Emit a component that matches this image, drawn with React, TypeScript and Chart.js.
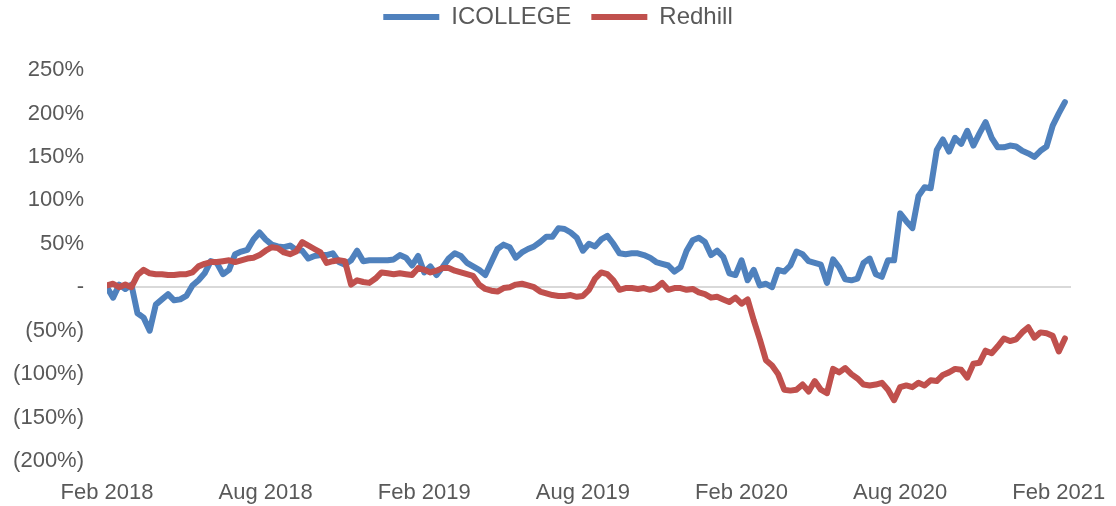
import React, { useEffect, useRef } from 'react';
import { Chart, registerables } from 'chart.js';

Chart.register(...registerables);

// Weekly observations, Feb 2018 -> Feb 2021 (index = week number)
const icollege: number[] = [
  0, -12, 3, -2, 3, -30, -35, -50, -20, -14,
  -8, -15, -14, -10, 2, 8, 16, 30, 28, 15,
  20, 38, 41, 43, 55, 63, 55, 49, 47, 46,
  48, 43, 42, 33, 36, 37, 37, 39, 29, 26,
  31, 42, 30, 31, 31, 31, 31, 32, 37, 34,
  25, 36, 17, 24, 14, 23, 33, 39, 36, 28,
  24, 20, 14, 29, 44, 49, 46, 34, 40, 44,
  47, 52, 58, 58, 68, 67, 63, 57, 42, 50,
  47, 55, 59, 50, 39, 38, 39, 39, 37, 34,
  29, 27, 25, 18, 23, 42, 54, 57, 52, 37,
  42, 35, 16, 14, 31, 8, 20, 2, 4, 0,
  20, 18, 25, 41, 38, 30, 28, 26, 5, 32,
  23, 9, 8, 10, 28, 33, 15, 12, 31, 31,
  85, 76, 68, 105, 115, 114, 158, 170, 156, 172,
  165, 180, 163, 177, 190, 172, 161, 161, 163, 162,
  157, 154, 150, 157, 162, 186, 200, 213,
];

const redhill: number[] = [
  2, 4, 0, 3, 0, 14, 20, 16, 15, 15,
  14, 14, 15, 15, 17, 24, 27, 29, 29, 30,
  31, 29, 31, 33, 34, 37, 42, 46, 45, 40,
  38, 41, 52, 48, 44, 40, 28, 30, 31, 30,
  3, 8, 6, 5, 10, 17, 16, 15, 16, 15,
  14, 22, 20, 17, 19, 22, 22, 19, 17, 15,
  13, 3, -2, -4, -5, -1, 0, 3, 4, 2,
  0, -5, -7, -9, -10, -10, -9, -11, -10, -3,
  10, 17, 15, 8, -3, -1, -1, -2, -1, -3,
  -1, 5, -3, -1, -1, -3, -2, -6, -8, -12,
  -11, -14, -17, -12, -19, -14, -38, -60, -84, -90,
  -100, -118, -119, -118, -112, -120, -108, -118, -122, -94,
  -98, -93, -100, -105, -112, -113, -112, -110, -118, -130,
  -115, -113, -115, -110, -113, -107, -108, -101, -98, -94,
  -95, -104, -88, -87, -73, -76, -68, -59, -62, -60,
  -52, -46, -58, -52, -53, -56, -74, -59,
];

const xTickWeeks: number[] = [0, 26, 52, 78, 104, 130, 156];
const xTickLabels: string[] = ['Feb 2018', 'Aug 2018', 'Feb 2019', 'Aug 2019', 'Feb 2020', 'Aug 2020', 'Feb 2021'];

const seriesNames: string[] = ['ICOLLEGE', 'Redhill'];
const seriesColors: string[] = ['#4F81BD', '#C0504D'];

const TEXT = '#595959';
const FONT = "'Liberation Sans', Arial, sans-serif";

const formatPct = (v: number) => {
  if (v === 0) return '-';
  if (v < 0) return `(${Math.abs(v)}%)`;
  return `${v}%`;
};

const LEGEND_PAD = 20;
const LEGEND_TOP_SHIFT = 5 - LEGEND_PAD;
const CHART_TOP = 70;

const legendHeightPlugin = {
  id: 'legendHeightFix',
  beforeLayout(chart: any) {
    const lg = chart.legend;
    if (lg && !lg.__patched) {
      lg.__patched = true;
      const orig = lg.fit;
      lg.fit = function () {
        orig.call(this);
        this.height = CHART_TOP - LEGEND_TOP_SHIFT;
      };
    }
  },
};

export default function App() {
  const ref = useRef<HTMLCanvasElement | null>(null);

  useEffect(() => {
    if (!ref.current) return;
    const toPts = (arr: number[]) => arr.map((y, i) => ({ x: i, y }));
    const chart = new Chart(ref.current, {
      type: 'line',
      data: {
        datasets: [
          {
            label: seriesNames[0],
            data: toPts(icollege),
            borderColor: seriesColors[0],
            backgroundColor: seriesColors[0],
            borderWidth: 6,
            pointRadius: 0,
            tension: 0,
            borderJoinStyle: 'round',
            borderCapStyle: 'round',
            order: 1,
          },
          {
            label: seriesNames[1],
            data: toPts(redhill),
            borderColor: seriesColors[1],
            backgroundColor: seriesColors[1],
            borderWidth: 6,
            pointRadius: 0,
            tension: 0,
            borderJoinStyle: 'round',
            borderCapStyle: 'round',
            order: 0,
          },
        ],
      },
      options: {
        animation: false,
        responsive: false,
        maintainAspectRatio: false,
        layout: { padding: { top: LEGEND_TOP_SHIFT, left: 0, right: 0, bottom: 0 } },
        plugins: {
          tooltip: { enabled: false },
          legend: {
            position: 'top',
            align: 'center',
            labels: {
              usePointStyle: true,
              pointStyle: 'line',
              pointStyleWidth: 56,
              padding: LEGEND_PAD,
              color: TEXT,
              font: { family: FONT, size: 24 },
              sort: (a: any, b: any) => a.datasetIndex - b.datasetIndex,
            },
          },
        },
        scales: {
          x: {
            type: 'linear',
            min: 0,
            max: 158,
            grid: { display: false },
            border: { display: false },
            afterBuildTicks: (s: any) => {
              s.ticks = xTickWeeks.map((v) => ({ value: v }));
            },
            afterFit: (s: any) => {
              s.paddingLeft = 0;
              s.paddingRight = 45;
              s.height = 45;
            },
            ticks: {
              autoSkip: false,
              maxRotation: 0,
              padding: 11,
              color: TEXT,
              font: { family: FONT, size: 22 },
              callback: (v: any) => {
                const i = xTickWeeks.indexOf(Number(v));
                return i >= 0 ? xTickLabels[i] : '';
              },
            },
          },
          y: {
            min: -200,
            max: 250,
            border: { display: false },
            grid: {
              drawTicks: false,
              lineWidth: 2,
              color: (ctx: any) => (ctx.tick && ctx.tick.value === 0 ? '#D9D9D9' : 'rgba(0,0,0,0)'),
            },
            afterFit: (s: any) => {
              s.width = 107;
              s.paddingTop = 0;
              s.paddingBottom = 0;
            },
            ticks: {
              stepSize: 50,
              padding: 23,
              color: TEXT,
              font: { family: FONT, size: 22 },
              callback: (v: any) => formatPct(Number(v)),
            },
          },
        },
      },
      plugins: [legendHeightPlugin],
    } as any);
    return () => chart.destroy();
  }, []);

  return (
    <div style={{ position: 'fixed', left: 0, top: 0, width: 1116, height: 506, background: '#fff' }}>
      <canvas ref={ref} width={1116} height={506} style={{ width: 1116, height: 506, display: 'block' }} />
    </div>
  );
}
